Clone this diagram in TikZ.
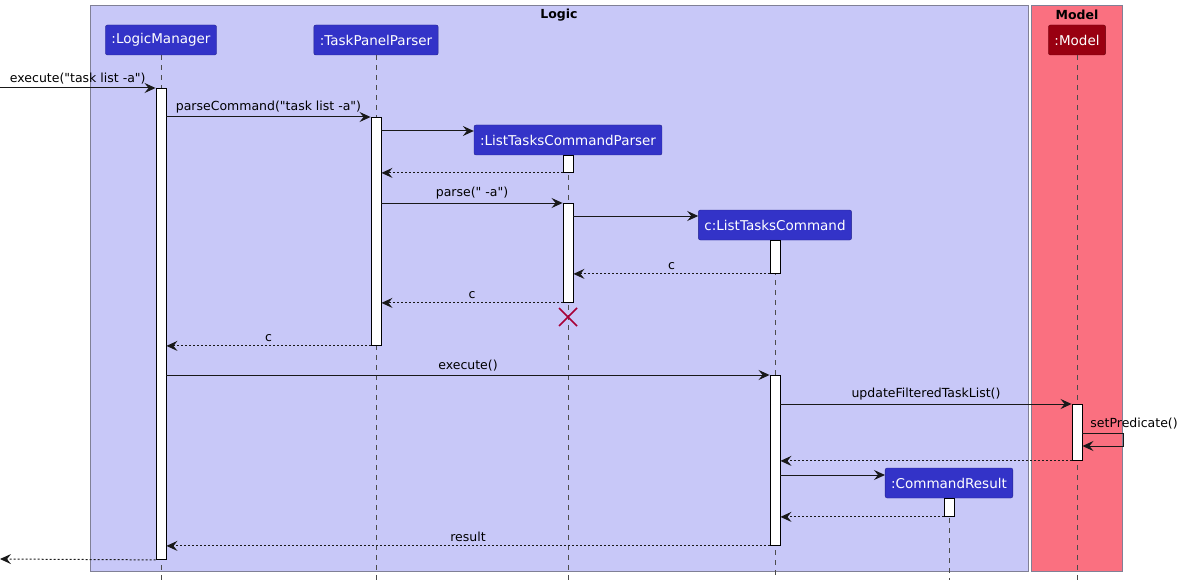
\documentclass[tikz,border=0pt]{standalone}
\usepackage{fontspec}
\setmainfont{DejaVu Sans}[Ligatures=TeXOff]
\usetikzlibrary{arrows.meta}
\definecolor{logicbg}{RGB}{200,200,248}
\definecolor{modelbg}{RGB}{250,112,128}
\definecolor{partblue}{RGB}{51,51,200}
\definecolor{partred}{RGB}{153,0,17}
\definecolor{framegray}{RGB}{128,128,150}
\definecolor{killred}{RGB}{168,0,54}

\begin{document}
\begin{tikzpicture}[x=1pt, y=-1pt,
    part/.style={draw=partblue!70!black, fill=partblue, rounded corners=2pt, text=white,
      minimum height=30pt, inner xsep=6pt, font=\fontsize{13.5}{15}\selectfont},
    bar/.style={draw=black, fill=white, line width=0.9pt, minimum width=10pt, inner sep=0pt, anchor=north},
    life/.style={draw=gray!60!black, dash pattern=on 5pt off 5pt, line width=0.8pt},
    msg/.style={draw=black!90, line width=1pt, -{Stealth[length=11pt, width=10pt, inset=4pt]}},
    ret/.style={msg, dash pattern=on 2pt off 2pt},
    lbl/.style={font=\fontsize{12.5}{14}\selectfont, inner sep=2.5pt, outer sep=1.5pt}]
    \useasboundingbox (0,0) rectangle (1178,583);

    % Boxes
    \draw[framegray, fill=logicbg, line width=1pt] (90,6) rectangle (1028,571);
    \draw[framegray, fill=modelbg, line width=1pt] (1031,6) rectangle (1122,571);
    \node[lbl, font=\fontsize{12.5}{14}\selectfont\bfseries] (logict) at (559,15) {Logic};
    \node[lbl, font=\fontsize{12.5}{14}\selectfont\bfseries] (modelt) at (1077,15) {Model};

    % Participants
    \node[part] (lm) at (161,40) {:LogicManager};
    \node[part] (tp) at (376,40) {:TaskPanelParser};
    \node[part, fill=partred, draw=partred!70!black] (mo) at (1077,40) {:Model};
    \node[part] (ltcp) at (568,140) {:ListTasksCommandParser};
    \node[part] (ltc) at (775,225) {c:ListTasksCommand};
    \node[part] (cr) at (949,483) {:CommandResult};

    % Lifelines
    \draw[life] (lm.south) -- (lm.south |- 0,580);
    \draw[life] (tp.south) -- (tp.south |- 0,580);
    \draw[life] (mo.south) -- (mo.south |- 0,580);
    \draw[life] (ltcp.south) -- (ltcp.south |- 0,580);
    \draw[life] (ltc.south) -- (ltc.south |- 0,580);
    \draw[life] (cr.south) -- (cr.south |- 0,580);

    % Activation bars
    \node[bar, minimum height=471pt] (lmbar) at (161,88) {};
    \node[bar, minimum height=228pt] (tpbar) at (376,117) {};
    \node[bar, minimum height=17pt] (ltcpbar1) at (568,155) {};
    \node[bar, minimum height=99pt] (ltcpbar2) at (568,203) {};
    \node[bar, minimum height=33pt] (ltcbar1) at (775,240) {};
    \node[bar, minimum height=170pt] (ltcbar2) at (775,375) {};
    \node[bar, minimum height=56pt] (mobar) at (1077,404) {};
    \node[bar, minimum height=18pt] (crbar) at (949,498) {};

    % Messages
    \coordinate (start) at (0,88);
    \coordinate (finish) at (0,559);
    \draw[msg] (start) -- (lmbar.west |- start) node[lbl, midway, above] (m1) {execute("task list -a")};
    \draw[msg] (lmbar.east |- 0,117) -- (tpbar.west |- 0,117) node[lbl, midway, above] (m2) {parseCommand("task list -a")};
    \draw[msg] (tpbar.east |- 0,131) -- (ltcp.west |- 0,131);
    \draw[ret] (ltcpbar1.south west) -- (tpbar.east |- ltcpbar1.south);
    \draw[msg] (tpbar.east |- 0,203) -- (ltcpbar2.north west) node[lbl, midway, above] (m3) {parse(" -a")};
    \draw[msg] (ltcpbar2.east |- 0,216) -- (ltc.west |- 0,216);
    \draw[ret] (ltcbar1.south west) -- (ltcpbar2.east |- ltcbar1.south) node[lbl, midway, above] (m4) {c};
    \draw[ret] (ltcpbar2.south west) -- (tpbar.east |- ltcpbar2.south) node[lbl, midway, above] (m5) {c};
    \draw[ret] (tpbar.south west) -- (lmbar.east |- tpbar.south) node[lbl, midway, above] (m6) {c};
    \draw[msg] (lmbar.east |- ltcbar2.north) -- (ltcbar2.north west) node[lbl, midway, above] (m7) {execute()};
    \draw[msg] (ltcbar2.east |- mobar.north) -- (mobar.north west) node[lbl, midway, above] (m8) {updateFilteredTaskList()};
    \draw[msg] (mobar.east |- 0,433) -- ++(41,0) -- ++(0,13) -- (mobar.east |- 0,446);
    \node[lbl, anchor=south west] (m9) at ([xshift=4pt]mobar.east |- 0,433) {setPredicate()};
    \draw[ret] (mobar.south west) -- (ltcbar2.east |- mobar.south);
    \draw[msg] (ltcbar2.east |- 0,475) -- (cr.west |- 0,475);
    \draw[ret] (crbar.south west) -- (ltcbar2.east |- crbar.south);
    \draw[ret] (ltcbar2.south west) -- (lmbar.east |- ltcbar2.south) node[lbl, midway, above] (m10) {result};
    \draw[ret] (lmbar.south west) -- (finish);

    % Destroy
    \draw[killred, line width=1.5pt] (559,308) -- (577,326) (559,326) -- (577,308);
\end{tikzpicture}
\end{document}
